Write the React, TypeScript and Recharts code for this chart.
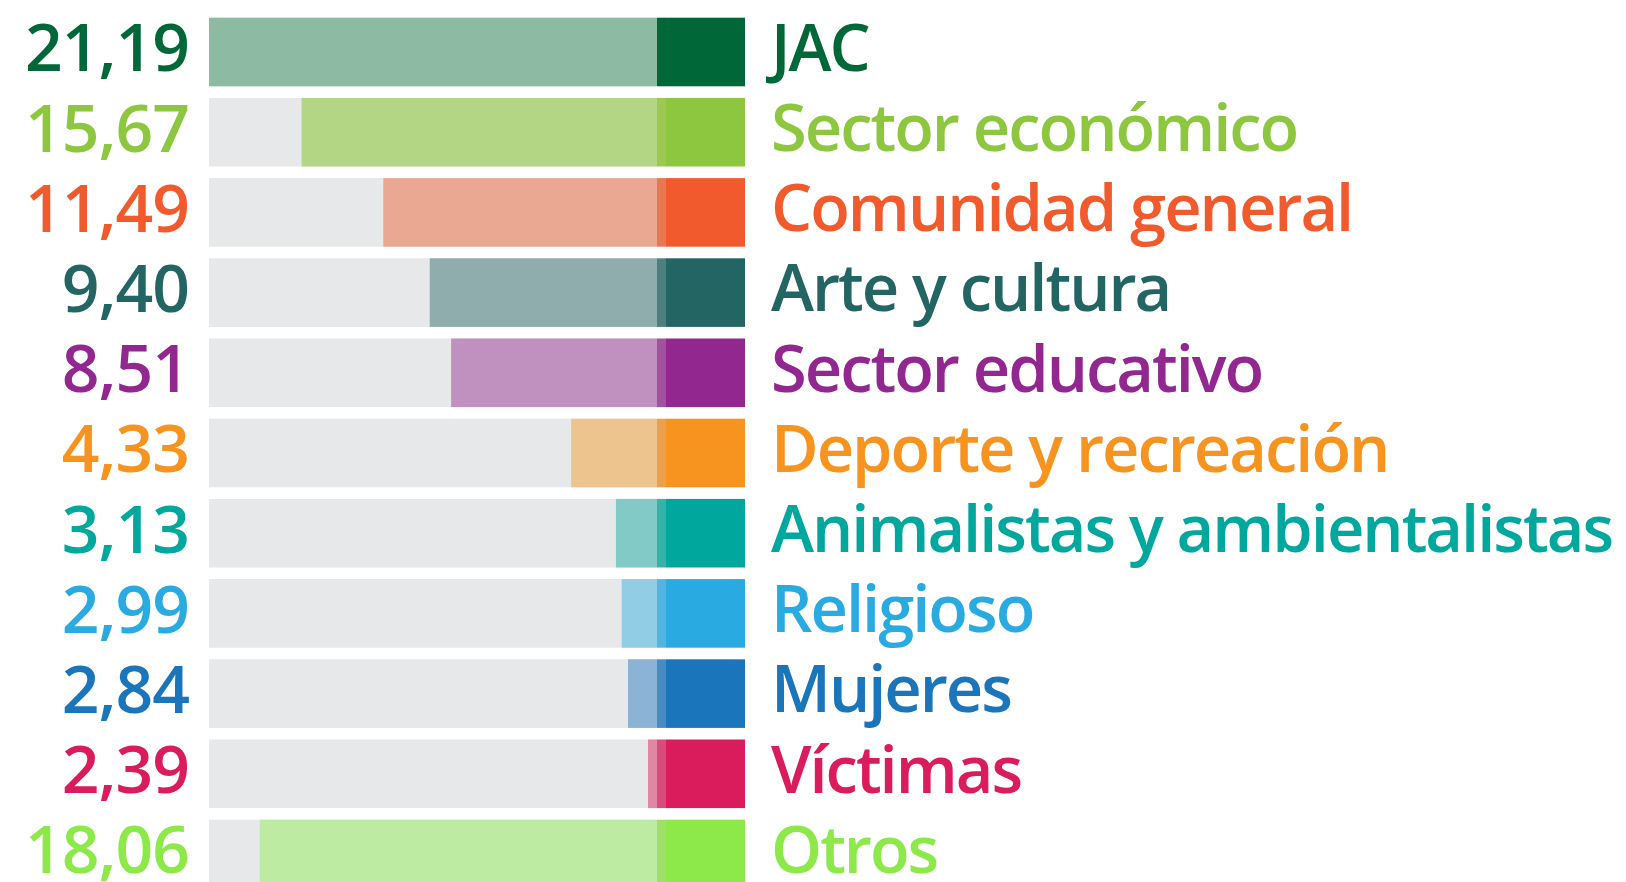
import { BarChart, Bar, XAxis, YAxis } from "recharts";

const categories = [
  "JAC",
  "Sector económico",
  "Comunidad general",
  "Arte y cultura",
  "Sector educativo",
  "Deporte y recreación",
  "Animalistas y ambientalistas",
  "Religioso",
  "Mujeres",
  "Víctimas",
  "Otros",
];

const values = [21.19, 15.67, 11.49, 9.4, 8.51, 4.33, 3.13, 2.99, 2.84, 2.39, 18.06];

const darkColors = [
  "#006838", "#8dc63f", "#f15a2c", "#226563", "#92278f", "#f7941f",
  "#00a79d", "#29abe2", "#1b75bb", "#da1c5c", "#8de84a",
];
const lightColors = [
  "#8cbaa3", "#b3d684", "#eaa892", "#8eadac", "#c090be", "#edc38e",
  "#81cac5", "#92cde6", "#8ab3d6", "#e088a3", "#bdeba1",
];
const seamColors = [
  "#006838", "#9dc952", "#e8784f", "#4c7f7d", "#a2519f", "#eda04b",
  "#33b3aa", "#52b4e0", "#478bc2", "#d84b7b", "#9fe167",
];

const data = categories.map((name, i) => ({ name, value: values[i] }));

const FONT = "'Open Sans', 'Noto Sans', sans-serif";
const CAP_WIDTH = 88;
const SEAM_WIDTH = 9;

// light bar grows leftwards from the cap, cap has fixed width
function CappedBar(props: any) {
  const { x, y, width, height, index } = props;
  const left = Math.min(x, x + width);
  const right = Math.max(x, x + width);
  return (
    <g>
      <rect x={left} y={y} width={right - left} height={height} fill={lightColors[index]} />
      <rect x={right} y={y} width={SEAM_WIDTH} height={height} fill={seamColors[index]} />
      <rect
        x={right + SEAM_WIDTH}
        y={y}
        width={CAP_WIDTH - SEAM_WIDTH}
        height={height}
        fill={darkColors[index]}
      />
    </g>
  );
}

function ValueTick(props: any) {
  const { x, y, index } = props;
  return (
    <text
      x={x}
      y={y}
      dy={19.5}
      textAnchor="end"
      fill={darkColors[index]}
      fontFamily={FONT}
      fontSize={66}
      fontWeight={600}
      letterSpacing={-1}
    >
      {values[index].toFixed(2).replace(".", ",")}
    </text>
  );
}

function NameTick(props: any) {
  const { x, y, index, payload } = props;
  return (
    <text
      x={x}
      y={y}
      dy={19}
      textAnchor="start"
      fill={darkColors[index]}
      fontFamily={FONT}
      fontSize={65}
      fontWeight={600}
      letterSpacing={-2}
    >
      {payload.value}
    </text>
  );
}

export default function App() {
  return (
    <div
      style={{
        position: "absolute",
        left: 0,
        top: 0,
        width: 1626,
        height: 882,
        overflow: "hidden",
        background: "#ffffff",
      }}
    >
      <BarChart
        width={1626}
        height={900}
        data={data}
        layout="vertical"
        margin={{ top: 11.7, right: 0, bottom: 6.1, left: 0 }}
      >
        <XAxis type="number" scale="sqrt" domain={[2.2, "dataMax"]} reversed hide />
        <YAxis
          yAxisId="left"
          type="category"
          dataKey="name"
          width={209}
          axisLine={false}
          tickLine={false}
          tickSize={0}
          tickMargin={20}
          interval={0}
          tick={<ValueTick />}
        />
        <YAxis
          yAxisId="right"
          orientation="right"
          type="category"
          dataKey="name"
          width={969}
          axisLine={false}
          tickLine={false}
          tickSize={0}
          tickMargin={114}
          interval={0}
          tick={<NameTick />}
        />
        <Bar
          yAxisId="left"
          dataKey="value"
          barSize={68.6}
          background={{ fill: "#e7e8e9" }}
          shape={<CappedBar />}
          isAnimationActive={false}
        />
      </BarChart>
    </div>
  );
}
